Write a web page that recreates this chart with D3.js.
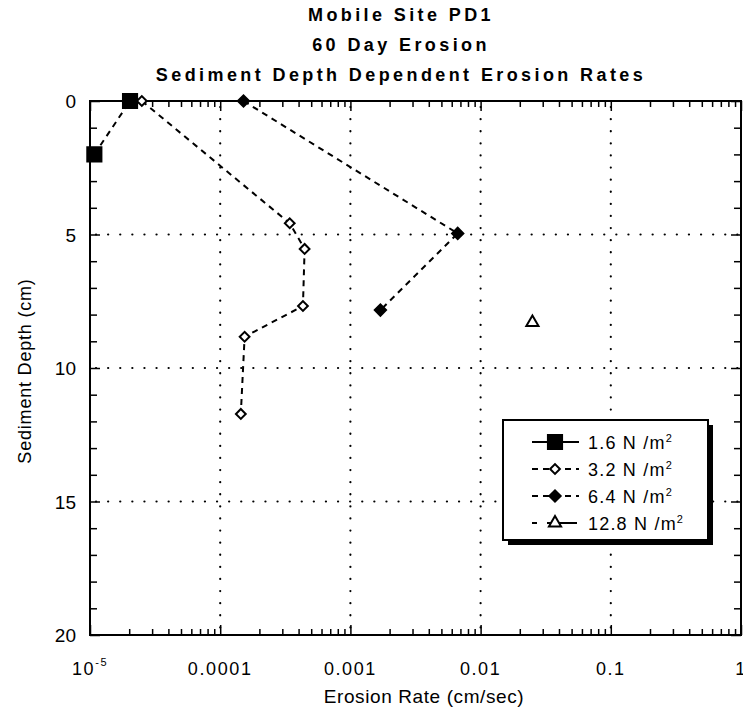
<!DOCTYPE html>
<html>
<head>
<meta charset="utf-8">
<script src="https://cdn.jsdelivr.net/npm/d3@7"></script>
<style>
body { margin: 0; background: #fff; }
svg { font-family: "Liberation Sans", Arial, sans-serif; }
</style>
</head>
<body>
<svg id="chart" width="743" height="708"></svg>
<script>
// data: [erosion rate cm/s, depth cm]
var s16 = [[1.08e-5, 2.0], [2.03e-5, 0.0]];
var s32 = [[2.5e-5, 0.0], [3.42e-4, 4.58], [4.45e-4, 5.54], [4.32e-4, 7.68], [1.54e-4, 8.83], [1.44e-4, 11.72]];
var s64 = [[1.51e-4, 0.0], [6.67e-3, 4.96], [1.7e-3, 7.83]];
var s128 = [[2.5e-2, 8.3]];

var legendLabels = ["1.6", "3.2", "6.4", "12.8"];
var xMajor = [1e-5, 1e-4, 1e-3, 1e-2, 1e-1, 1];
var xLabels = ["10", "0.0001", "0.001", "0.01", "0.1", "1"];
var yMajor = [0, 5, 10, 15, 20];
var titleLines = ["Mobile Site PD1", "60 Day Erosion", "Sediment Depth Dependent Erosion Rates"];

var svg = d3.select("#chart");
var pLeft = 90, pRight = 741, pTop = 101, pBottom = 635;

var x = d3.scaleLog().domain([1e-5, 1]).range([pLeft, pRight]);
var y = d3.scaleLinear().domain([0, 20]).range([pTop, pBottom]);

// minor ticks
var xMinor = [];
for (var d = -5; d < 0; d++) {
	for (var m = 2; m <= 9; m++) xMinor.push(m * Math.pow(10, d));
}
var yMinor = d3.range(0, 21).filter(function(v) { return v % 5 != 0; });

// grid
var grid = svg.append("g").attr("stroke", "#000").attr("stroke-width", 2.2)
	.attr("stroke-dasharray", "0.1,12").attr("stroke-linecap", "round");
grid.selectAll(".gx").data(xMajor.slice(1, 5)).enter().append("line")
	.attr("x1", function(d) { return x(d); }).attr("x2", function(d) { return x(d); })
	.attr("y1", pTop + 6).attr("y2", pBottom);
grid.selectAll(".gy").data(yMajor.slice(1, 4)).enter().append("line")
	.attr("y1", function(d) { return y(d); }).attr("y2", function(d) { return y(d); })
	.attr("x1", pLeft + 6).attr("x2", pRight);

// axes
function styleAxis(g) {
	g.select(".domain").remove();
	g.selectAll("line").attr("stroke", "#000").attr("stroke-width", 1.5);
	g.selectAll("text").remove();
}
svg.append("g").attr("transform", "translate(0," + pBottom + ")")
	.call(d3.axisBottom(x).tickValues(xMinor).tickSize(-6)).call(styleAxis);
svg.append("g").attr("transform", "translate(0," + pBottom + ")")
	.call(d3.axisBottom(x).tickValues(xMajor).tickSize(-10)).call(styleAxis);
svg.append("g").attr("transform", "translate(0," + pTop + ")")
	.call(d3.axisTop(x).tickValues(xMinor).tickSize(-6)).call(styleAxis);
svg.append("g").attr("transform", "translate(0," + pTop + ")")
	.call(d3.axisTop(x).tickValues(xMajor).tickSize(-10)).call(styleAxis);
svg.append("g").attr("transform", "translate(" + pLeft + ",0)")
	.call(d3.axisLeft(y).tickValues(yMinor).tickSize(-7)).call(styleAxis);
svg.append("g").attr("transform", "translate(" + pLeft + ",0)")
	.call(d3.axisLeft(y).tickValues(yMajor).tickSize(-10)).call(styleAxis);
svg.append("g").attr("transform", "translate(" + pRight + ",0)")
	.call(d3.axisRight(y).tickValues(yMinor).tickSize(-7)).call(styleAxis);
svg.append("g").attr("transform", "translate(" + pRight + ",0)")
	.call(d3.axisRight(y).tickValues(yMajor).tickSize(-10)).call(styleAxis);

svg.append("rect").attr("x", pLeft).attr("y", pTop)
	.attr("width", pRight - pLeft).attr("height", pBottom - pTop)
	.attr("fill", "none").attr("stroke", "#000").attr("stroke-width", 2);

// tick labels
svg.append("g").selectAll("text").data(yMajor).enter().append("text")
	.attr("x", pLeft - 14).attr("y", function(d) { return y(d) + 7; })
	.attr("text-anchor", "end").attr("font-size", 19).text(function(d) { return d; });

var xl = svg.append("g").selectAll("text").data(xMajor).enter().append("text")
	.attr("x", function(d) { return x(d); }).attr("y", 675)
	.attr("text-anchor", "middle").attr("font-size", 18).attr("letter-spacing", 1.6)
	.text(function(d, i) { return xLabels[i]; });
xl.filter(function(d, i) { return i == 0; }).append("tspan")
	.attr("dy", -9).attr("font-size", 11).text("-5");

// axis titles
svg.append("text").attr("x", 424).attr("y", 703).attr("text-anchor", "middle")
	.attr("font-size", 19).attr("letter-spacing", 0.6).text("Erosion Rate (cm/sec)");
svg.append("text").attr("transform", "translate(31,371) rotate(-90)")
	.attr("text-anchor", "middle").attr("font-size", 18).attr("letter-spacing", 0.8)
	.text("Sediment Depth (cm)");

// title
svg.append("g").selectAll("text").data(titleLines).enter().append("text")
	.attr("x", 401).attr("y", function(d, i) { return 21 + i * 30; })
	.attr("text-anchor", "middle").attr("font-size", 18).attr("font-weight", "bold")
	.attr("letter-spacing", 3.4).text(function(d) { return d; });

// series
var line = d3.line().x(function(d) { return x(d[0]); }).y(function(d) { return y(d[1]); });
[s16, s32, s64].forEach(function(s) {
	svg.append("path").datum(s).attr("d", line).attr("fill", "none")
		.attr("stroke", "#000").attr("stroke-width", 2).attr("stroke-dasharray", "6,5");
});

var sym = {
	sq: { d: d3.symbol().type(d3.symbolSquare).size(200)(), rot: 0 },
	dia: { d: d3.symbol().type(d3.symbolSquare).size(48)(), rot: 45 },
	diaF: { d: d3.symbol().type(d3.symbolSquare).size(64)(), rot: 45 },
	tri: { d: d3.symbol().type(d3.symbolTriangle).size(64)(), rot: 0 }
};
function marks(data, s, fill) {
	svg.append("g").selectAll("path").data(data).enter().append("path")
		.attr("transform", function(d) { return "translate(" + x(d[0]) + "," + y(d[1]) + ") rotate(" + s.rot + ")"; })
		.attr("d", s.d).attr("fill", fill).attr("stroke", "#000").attr("stroke-width", 2);
}
marks(s16, sym.sq, "#000");
marks(s32, sym.dia, "#fff");
marks(s64, sym.diaF, "#000");
marks(s128, sym.tri, "#fff");

// legend
var lx = 503, ly = 420, lw = 205, lh = 120;
svg.append("rect").attr("x", lx + 5).attr("y", ly + 5).attr("width", lw).attr("height", lh).attr("fill", "#000");
svg.append("rect").attr("x", lx).attr("y", ly).attr("width", lw).attr("height", lh)
	.attr("fill", "#fff").attr("stroke", "#000").attr("stroke-width", 2);

var lsym = [sym.sq, sym.dia, sym.diaF, sym.tri];
var lfill = ["#000", "#fff", "#000", "#fff"];
var ldash = ["none", "6,5", "6,5", "none"];
legendLabels.forEach(function(t, i) {
	var yy = ly + 22 + i * 27;
	var ln = svg.append("line").attr("x1", lx + 29).attr("x2", lx + 76)
		.attr("y1", yy).attr("y2", yy).attr("stroke", "#000").attr("stroke-width", 2)
		.attr("stroke-dasharray", ldash[i]);
	if (i == 3) ln.attr("stroke-dasharray", "5,10,30");
	svg.append("path").attr("transform", "translate(" + (lx + 52) + "," + yy + ") rotate(" + lsym[i].rot + ")")
		.attr("d", lsym[i].d).attr("fill", lfill[i]).attr("stroke", "#000").attr("stroke-width", 2);
	var tx = svg.append("text").attr("x", lx + 85).attr("y", yy + 7).attr("font-size", 18)
		.attr("letter-spacing", 1.2).text(t + " N /m");
	tx.append("tspan").attr("dy", -7).attr("font-size", 11).text("2");
});
</script>
</body>
</html>
